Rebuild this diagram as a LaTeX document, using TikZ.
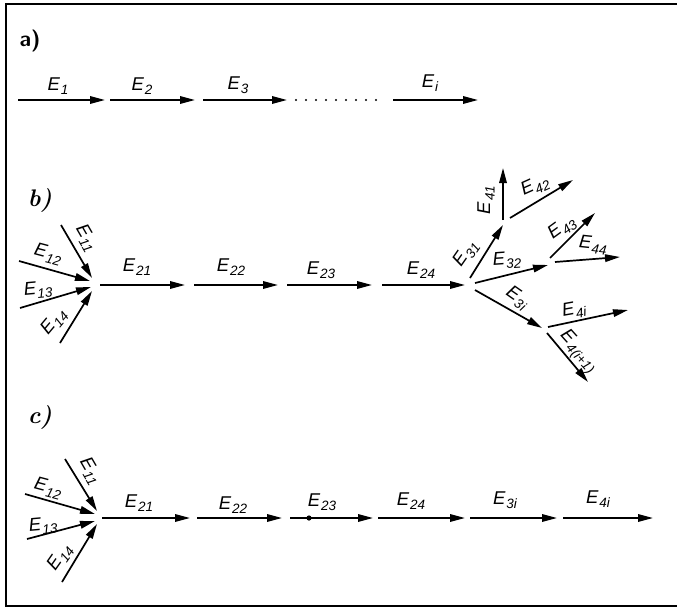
\documentclass[tikz,border=0pt]{standalone}
\usepackage{fontspec}
\usetikzlibrary{arrows.meta}
\newfontfamily\lblfont{Liberation Sans}
% E with a lowered subscript, in a slanted lettering
\newcommand\Esub[1]{E\kern0.8pt\raisebox{-4.5pt}{\fontsize{13.5pt}{13.5pt}\selectfont #1}}
\tikzset{
  arr/.style={line width=1.7pt, -{Triangle[length=15pt,width=7.5pt]}},
  lbl/.style={inner sep=0pt, font=\lblfont\itshape\fontsize{18.5pt}{18.5pt}\selectfont},
  part/.style={inner sep=0pt, font=\bfseries\itshape\fontsize{24pt}{24pt}\selectfont},
}
\begin{document}
\begin{tikzpicture}[x=1pt,y=-1pt]
\useasboundingbox (0,0) rectangle (677,610);
% frame
\draw[line width=2pt] (677,4) -- (6,4) -- (6,606) -- (677,606);

% ---------- a) simple chain ----------
\node[part, font=\sffamily\bfseries\fontsize{22pt}{22pt}\selectfont] (la) at (30,41) {a)};
\coordinate (a1s) at (18,100);  \coordinate (a1e) at (105,100);
\coordinate (a2s) at (110,100); \coordinate (a2e) at (195,100);
\coordinate (a3s) at (203,100); \coordinate (a3e) at (287,100);
\coordinate (ds) at (296,100);  \coordinate (de) at (386,100);
\coordinate (a4s) at (393,100); \coordinate (a4e) at (478,100);
\draw[arr] (a1s) -- (a1e);
\draw[arr] (a2s) -- (a2e);
\draw[arr] (a3s) -- (a3e);
\draw[line width=2.4pt, line cap=round, dash pattern=on 0pt off 10pt] (ds) -- (de);
\draw[arr] (a4s) -- (a4e);
\node[lbl] (tE1) at (58,86) {\Esub{1}};
\node[lbl] (tE2) at (142,86) {\Esub{2}};
\node[lbl] (tE3) at (238,85) {\Esub{3}};
\node[lbl] (tEi) at (430,83) {\Esub{i}};

% ---------- b) branching chain ----------
\node[part] (lb) at (40,200) {b)};
\coordinate (bh) at (95,284);
\coordinate (b11) at (61,225); \coordinate (b11e) at (92,278);
\coordinate (b12) at (19,261); \coordinate (b12e) at (90,281);
\coordinate (b13) at (20,308); \coordinate (b13e) at (91,287);
\coordinate (b14) at (60,343); \coordinate (b14e) at (92,291);
\draw[arr] (b11) -- (b11e);
\draw[arr] (b12) -- (b12e);
\draw[arr] (b13) -- (b13e);
\draw[arr] (b14) -- (b14e);
\node[lbl, rotate=-60] (tb11) at (86,238) {\Esub{11}};
\node[lbl, rotate=-15] (tb12) at (48,254) {\Esub{12}};
\node[lbl, rotate=5] (tb13) at (38,290) {\Esub{13}};
\node[lbl, rotate=50] (tb14) at (54,322) {\Esub{14}};

\coordinate (b21s) at (100,285); \coordinate (b21e) at (185,285);
\coordinate (b22s) at (194,285); \coordinate (b22e) at (278,285);
\coordinate (b23s) at (287,285); \coordinate (b23e) at (372,285);
\coordinate (b24s) at (382,285); \coordinate (b24e) at (465,285);
\draw[arr] (b21s) -- (b21e);
\draw[arr] (b22s) -- (b22e);
\draw[arr] (b23s) -- (b23e);
\draw[arr] (b24s) -- (b24e);
\node[lbl] (tb21) at (137,267) {\Esub{21}};
\node[lbl] (tb22) at (231,267) {\Esub{22}};
\node[lbl] (tb23) at (321,270) {\Esub{23}};
\node[lbl] (tb24) at (421,270) {\Esub{24}};

% second level
\coordinate (b31s) at (470,278); \coordinate (b31e) at (503,225);
\coordinate (b32s) at (475,283); \coordinate (b32e) at (548,265);
\coordinate (b3is) at (475,290); \coordinate (b3ie) at (542,328);
\draw[arr] (b31s) -- (b31e);
\draw[arr] (b32s) -- (b32e);
\draw[arr] (b3is) -- (b3ie);
\node[lbl, rotate=55] (tb31) at (466,254) {\Esub{31}};
\node[lbl, rotate=4] (tb32) at (507,260) {\Esub{32}};
\node[lbl, rotate=-35] (tb3i) at (517,298) {\Esub{3i}};
% third level
\coordinate (b41s) at (503,220); \coordinate (b41e) at (503,168);
\coordinate (b42s) at (510,218); \coordinate (b42e) at (573,180);
\coordinate (b43s) at (550,258); \coordinate (b43e) at (595,213);
\coordinate (b44s) at (555,262); \coordinate (b44e) at (620,257);
\coordinate (b4is) at (548,327); \coordinate (b4ie) at (628,310);
\coordinate (b4ns) at (547,333); \coordinate (b4ne) at (588,382);
\draw[arr] (b41s) -- (b41e);
\draw[arr] (b42s) -- (b42e);
\draw[arr] (b43s) -- (b43e);
\draw[arr] (b44s) -- (b44e);
\draw[arr] (b4is) -- (b4ie);
\draw[arr] (b4ns) -- (b4ne);
\node[lbl, rotate=90] (tb41) at (486,200) {\Esub{41}};
\node[lbl, rotate=24] (tb42) at (535,186) {\Esub{42}};
\node[lbl, rotate=36] (tb43) at (562,228) {\Esub{43}};
\node[lbl, rotate=-6] (tb44) at (593,245) {\Esub{44}};
\node[lbl, rotate=10] (tb4i) at (574,310) {\Esub{4i}};
\node[lbl, rotate=-48] (tb4n) at (578,352) {\Esub{4(i+1)}};

% ---------- c) reduced chain ----------
\node[part] (lc) at (40,417) {c)};
\coordinate (c11) at (65,459); \coordinate (c11e) at (97,511);
\coordinate (c12) at (25,494); \coordinate (c12e) at (95,514);
\coordinate (c13) at (27,539); \coordinate (c13e) at (95,521);
\coordinate (c14) at (62,582); \coordinate (c14e) at (97,524);
\draw[arr] (c11) -- (c11e);
\draw[arr] (c12) -- (c12e);
\draw[arr] (c13) -- (c13e);
\draw[arr] (c14) -- (c14e);
\node[lbl, rotate=-60] (tc11) at (90,471) {\Esub{11}};
\node[lbl, rotate=-15] (tc12) at (48,488) {\Esub{12}};
\node[lbl, rotate=5] (tc13) at (43,526) {\Esub{13}};
\node[lbl, rotate=55] (tc14) at (60,558) {\Esub{14}};

\coordinate (c21s) at (102,518); \coordinate (c21e) at (190,518);
\coordinate (c22s) at (197,518); \coordinate (c22e) at (282,518);
\coordinate (c23s) at (290,518); \coordinate (c23e) at (373,518);
\coordinate (c24s) at (378,518); \coordinate (c24e) at (465,518);
\coordinate (c3is) at (470,518); \coordinate (c3ie) at (557,518);
\coordinate (c4is) at (563,518); \coordinate (c4ie) at (653,518);
\draw[arr] (c21s) -- (c21e);
\draw[arr] (c22s) -- (c22e);
\draw[arr] (c23s) -- (c23e);
\draw[arr] (c24s) -- (c24e);
\draw[arr] (c3is) -- (c3ie);
\draw[arr] (c4is) -- (c4ie);
\fill (309,518) circle (2.6pt);
\node[lbl] (tc21) at (139,503) {\Esub{21}};
\node[lbl] (tc22) at (233,505) {\Esub{22}};
\node[lbl] (tc23) at (322,502) {\Esub{23}};
\node[lbl] (tc24) at (411,501) {\Esub{24}};
\node[lbl] (tc3i) at (505,500) {\Esub{3i}};
\node[lbl] (tc4i) at (598,499) {\Esub{4i}};
\end{tikzpicture}
\end{document}
